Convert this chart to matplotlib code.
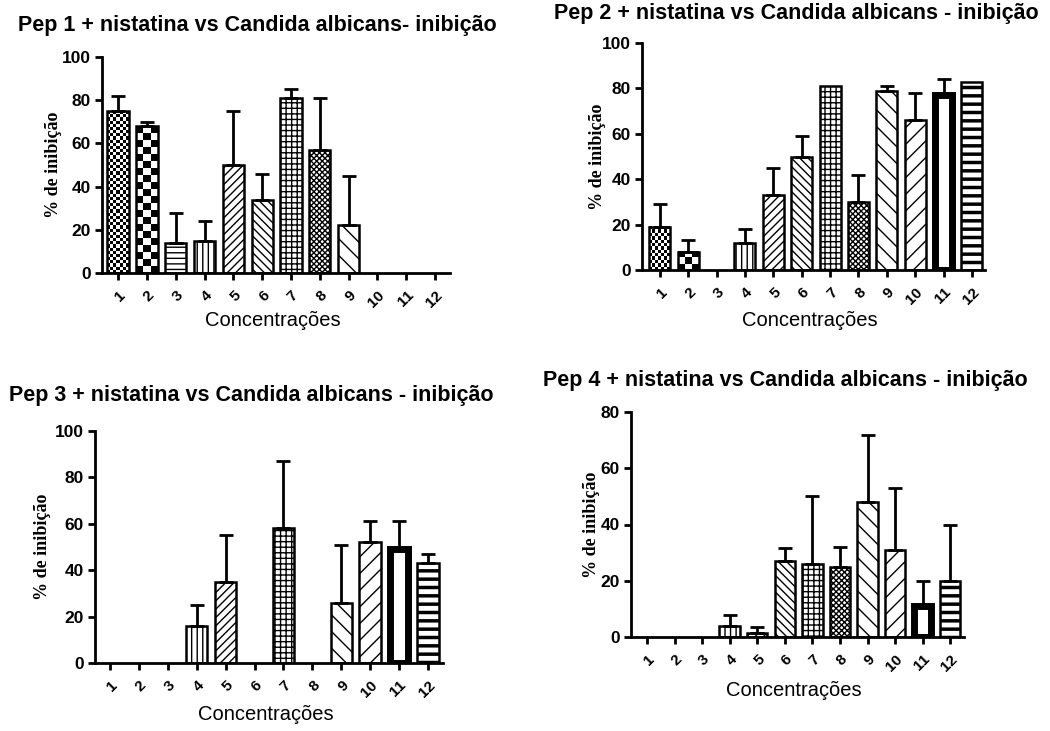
import numpy as np
from matplotlib import pyplot as plt

# 数据
conc = list(range(1, 13))
xticklabels = [str(c) for c in conc]

pep1 = [75, 68, 14, 15, 50, 34, 81, 57, 22, 0, 0, 0]
pep1_err = [7, 2, 14, 9, 25, 12, 4, 24, 23, 0, 0, 0]

pep2 = [19, 8, 0, 12, 33, 50, 81, 30, 79, 66, 77, 83]
pep2_err = [10, 5, 0, 6, 12, 9, 0, 12, 2, 12, 7, 0]

pep3 = [0, 0, 0, 16, 35, 0, 58, 0, 26, 52, 49, 43]
pep3_err = [0, 0, 0, 9, 20, 0, 29, 0, 25, 9, 12, 4]

pep4 = [0, 0, 0, 4, 1.5, 27, 26, 25, 48, 31, 11, 20]
pep4_err = [0, 0, 0, 4, 2, 4.5, 24, 7, 24, 22, 9, 20]

titles = ['Pep 1 + nistatina vs Candida albicans- inibição',
          'Pep 2 + nistatina vs Candida albicans - inibição',
          'Pep 3 + nistatina vs Candida albicans - inibição',
          'Pep 4 + nistatina vs Candida albicans - inibição']

# 每个浓度的填充样式
hatches = ['check_fine', 'check_big', '---', '|||', '////', '\\\\\\\\', '+++',
           'xxxxxx', '\\\\', '//', 'thick', '--']

W, H = 1050, 731
# 每个子图: 左, 右, 顶, 零线 (像素), x范围, y最大值, 标题位置, 轴标签偏移
panels = [
    dict(box=(102, 450, 57, 273), xlim=(0.44, 12.52), ymax=100, tpos=(257, 25), ylab=-49, xlab=-47),
    dict(box=(642, 985, 43, 270), xlim=(0.37, 12.46), ymax=100, tpos=(796, 13), ylab=-45, xlab=-50),
    dict(box=(95, 443, 431, 663), xlim=(0.48, 12.52), ymax=100, tpos=(251, 395), ylab=-52, xlab=-51),
    dict(box=(631, 964, 412, 637), xlim=(0.42, 12.50), ymax=80, tpos=(785, 380), ylab=-39, xlab=-53),
]
data = [(pep1, pep1_err), (pep2, pep2_err), (pep3, pep3_err), (pep4, pep4_err)]

fig = plt.figure(figsize=(10.5, 7.31), dpi=100)
plt.rcParams['hatch.linewidth'] = 1.0

sans = 'Liberation Sans'
serif = 'Liberation Serif'


def checker(ax, bar, cell_px, ax_w, ax_h, xr, yr):
    x0, y0 = bar.get_x(), bar.get_y()
    w, h = bar.get_width(), bar.get_height()
    wpx = w / xr * ax_w
    hpx = h / yr * ax_h
    nc = max(1, int(round(wpx / cell_px)))
    nr = max(1, int(round(hpx / cell_px)))
    arr = (np.add.outer(np.arange(nr), np.arange(nc)) % 2).astype(float)
    ax.imshow(arr, extent=(x0, x0 + w, y0, y0 + h), cmap='gray', interpolation='nearest',
              aspect='auto', zorder=0.5, vmin=0, vmax=1)


for p, (vals, errs), title in zip(panels, data, titles):
    l, r, t, b = p['box']
    ax = fig.add_axes([l / W, 1 - b / H, (r - l) / W, (b - t) / H])
    ax.set_xlim(*p['xlim'])
    ax.set_ylim(0, p['ymax'])
    xr = p['xlim'][1] - p['xlim'][0]
    yr = p['ymax']

    for i, (c, v, e) in enumerate(zip(conc, vals, errs)):
        if v <= 0:
            continue
        hs = hatches[i]
        if hs.startswith('check'):
            bar = ax.bar(c, v, width=0.74, facecolor='none', edgecolor='black', linewidth=1.8, zorder=1)[0]
            checker(ax, bar, 3.2 if hs == 'check_fine' else 7, r - l, b - t, xr, yr)
        elif hs == 'thick':
            ax.bar(c, v, width=0.62, facecolor='white', edgecolor='black', linewidth=5, zorder=1)
        else:
            bar = ax.bar(c, v, width=0.74, facecolor='white', edgecolor='black', hatch=hs,
                         linewidth=1.8, zorder=1)[0]
            if hs == '--' and hasattr(bar, 'set_hatch_linewidth'):
                bar.set_hatch_linewidth(2.5)
        if e > 0:
            ax.errorbar(c, v, yerr=[[0], [e]], fmt='none', ecolor='black', elinewidth=2,
                        capsize=5, capthick=2, zorder=2)

    ax.set_xlim(*p['xlim'])
    ax.set_ylim(0, p['ymax'])
    for s in ['top', 'right']:
        ax.spines[s].set_visible(False)
    for s in ['left', 'bottom']:
        ax.spines[s].set_linewidth(2)
    ax.set_yticks(np.arange(0, p['ymax'] + 1, 20))
    ax.set_xticks(conc)
    ax.set_xticklabels(xticklabels, rotation=45, ha='right', rotation_mode='anchor',
                       family=sans, fontsize=11, fontweight='bold')
    for lab in ax.get_yticklabels():
        lab.set_family(sans)
        lab.set_fontweight('bold')
        lab.set_fontsize(12.5)
    ax.tick_params(axis='both', direction='out', length=5, width=2, pad=3)
    ax.tick_params(axis='x', pad=6)

    ax.set_ylabel('% de inibição', family=serif, fontweight='bold', fontsize=13, va='center')
    ax.yaxis.set_label_coords(p['ylab'] / (r - l), 0.5)
    ax.set_xlabel('Concentrações', family=sans, fontsize=14.5, va='center')
    ax.xaxis.set_label_coords(0.49, p['xlab'] / (b - t))

    fig.text(p['tpos'][0] / W, 1 - p['tpos'][1] / H, title, ha='center', va='center',
             family=sans, fontweight='bold', fontsize=15.5)

plt.savefig('out.png', dpi=100)
